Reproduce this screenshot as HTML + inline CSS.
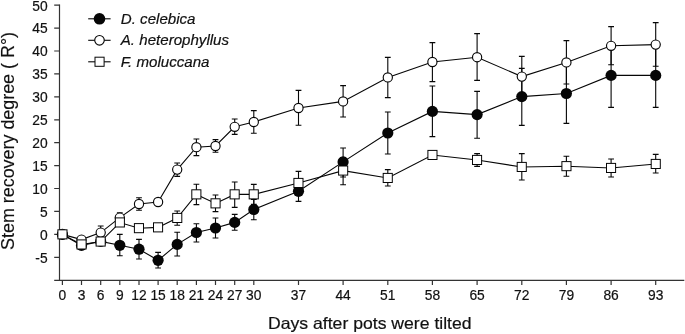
<!DOCTYPE html>
<html><head><meta charset="utf-8"><title>Stem recovery degree</title>
<style>
html,body{margin:0;padding:0;background:#fff;}
body{width:685px;height:334px;position:relative;overflow:hidden;font-family:"Liberation Sans",sans-serif;}
</style></head><body>
<svg width="685" height="334" viewBox="0 0 685 334" style="position:absolute;left:0;top:0;will-change:transform">
<path d="M59.5 4.55V280.3M54.2 280.3H684.3" stroke="#333" stroke-width="1.2" fill="none"/>
<path d="M54.2 257.3H59.5M54.2 234.3H59.5M54.2 211.4H59.5M54.2 188.5H59.5M54.2 165.6H59.5M54.2 142.7H59.5M54.2 119.8H59.5M54.2 96.8H59.5M54.2 73.9H59.5M54.2 51.0H59.5M54.2 28.1H59.5M54.2 5.2H59.5M62.4 280.3V285.0M81.5 280.3V285.0M100.7 280.3V285.0M119.8 280.3V285.0M139.0 280.3V285.0M158.1 280.3V285.0M177.2 280.3V285.0M196.4 280.3V285.0M215.5 280.3V285.0M234.7 280.3V285.0M253.8 280.3V285.0M298.5 280.3V285.0M343.1 280.3V285.0M387.8 280.3V285.0M432.4 280.3V285.0M477.1 280.3V285.0M521.8 280.3V285.0M566.4 280.3V285.0M611.1 280.3V285.0M655.7 280.3V285.0" stroke="#333" stroke-width="1.2" fill="none"/>
<g font-family="Liberation Sans, sans-serif" font-size="13.8" fill="#111" stroke="#111" stroke-width="0.2">
<text x="47.6" y="262.6" text-anchor="end">-5</text>
<text x="47.6" y="239.7" text-anchor="end">0</text>
<text x="47.6" y="216.7" text-anchor="end">5</text>
<text x="47.6" y="193.8" text-anchor="end">10</text>
<text x="47.6" y="170.9" text-anchor="end">15</text>
<text x="47.6" y="148.0" text-anchor="end">20</text>
<text x="47.6" y="125.0" text-anchor="end">25</text>
<text x="47.6" y="102.1" text-anchor="end">30</text>
<text x="47.6" y="79.2" text-anchor="end">35</text>
<text x="47.6" y="56.3" text-anchor="end">40</text>
<text x="47.6" y="33.4" text-anchor="end">45</text>
<text x="47.6" y="10.5" text-anchor="end">50</text>
<text x="62.4" y="300.2" text-anchor="middle">0</text>
<text x="81.5" y="300.2" text-anchor="middle">3</text>
<text x="100.7" y="300.2" text-anchor="middle">6</text>
<text x="119.8" y="300.2" text-anchor="middle">9</text>
<text x="139.0" y="300.2" text-anchor="middle">12</text>
<text x="158.1" y="300.2" text-anchor="middle">15</text>
<text x="177.2" y="300.2" text-anchor="middle">18</text>
<text x="196.4" y="300.2" text-anchor="middle">21</text>
<text x="215.5" y="300.2" text-anchor="middle">24</text>
<text x="234.7" y="300.2" text-anchor="middle">27</text>
<text x="253.8" y="300.2" text-anchor="middle">30</text>
<text x="298.5" y="300.2" text-anchor="middle">37</text>
<text x="343.1" y="300.2" text-anchor="middle">44</text>
<text x="387.8" y="300.2" text-anchor="middle">51</text>
<text x="432.4" y="300.2" text-anchor="middle">58</text>
<text x="477.1" y="300.2" text-anchor="middle">65</text>
<text x="521.8" y="300.2" text-anchor="middle">72</text>
<text x="566.4" y="300.2" text-anchor="middle">79</text>
<text x="611.1" y="300.2" text-anchor="middle">86</text>
<text x="655.7" y="300.2" text-anchor="middle">93</text>
</g>
<text font-family="Liberation Sans, sans-serif" font-size="16.5" fill="#111" stroke="#111" stroke-width="0.2" x="268.0" y="328.8" textLength="203.6" lengthAdjust="spacingAndGlyphs">Days after pots were tilted</text>
<text font-family="Liberation Sans, sans-serif" font-size="17.8" fill="#111" stroke="#111" stroke-width="0.15" transform="translate(13.8 249.9) rotate(-90)" textLength="217.9" lengthAdjust="spacingAndGlyphs">Stem recovery degree ( R°)</text>
<polyline points="62.4,234.4 81.5,245.4 100.7,241.4 119.8,245.3 139.0,249.2 158.1,260.3 177.2,244.4 196.4,232.5 215.5,228.0 234.7,222.4 253.8,209.5 298.5,191.3 343.1,161.9 387.8,133.0 432.4,111.4 477.1,114.6 521.8,96.6 566.4,93.5 611.1,75.4 655.7,75.4" fill="none" stroke="#060606" stroke-width="1.1"/>
<path d="M119.8 234.4V255.8M116.9 234.4h5.8M116.9 255.8h5.8" stroke="#060606" stroke-width="1.1" fill="none"/>
<path d="M139.0 239.4V259.0M136.1 239.4h5.8M136.1 259.0h5.8" stroke="#060606" stroke-width="1.1" fill="none"/>
<path d="M158.1 252.4V268.0M155.2 252.4h5.8M155.2 268.0h5.8" stroke="#060606" stroke-width="1.1" fill="none"/>
<path d="M177.2 232.2V256.0M174.3 232.2h5.8M174.3 256.0h5.8" stroke="#060606" stroke-width="1.1" fill="none"/>
<path d="M196.4 223.8V242.0M193.5 223.8h5.8M193.5 242.0h5.8" stroke="#060606" stroke-width="1.1" fill="none"/>
<path d="M215.5 218.0V238.0M212.6 218.0h5.8M212.6 238.0h5.8" stroke="#060606" stroke-width="1.1" fill="none"/>
<path d="M234.7 214.4V230.3M231.8 214.4h5.8M231.8 230.3h5.8" stroke="#060606" stroke-width="1.1" fill="none"/>
<path d="M253.8 199.5V219.8M250.9 199.5h5.8M250.9 219.8h5.8" stroke="#060606" stroke-width="1.1" fill="none"/>
<path d="M298.5 181.0V201.4M295.6 181.0h5.8M295.6 201.4h5.8" stroke="#060606" stroke-width="1.1" fill="none"/>
<path d="M343.1 148.0V177.0M340.2 148.0h5.8M340.2 177.0h5.8" stroke="#060606" stroke-width="1.1" fill="none"/>
<path d="M387.8 112.0V154.0M384.9 112.0h5.8M384.9 154.0h5.8" stroke="#060606" stroke-width="1.1" fill="none"/>
<path d="M432.4 86.0V136.6M429.5 86.0h5.8M429.5 136.6h5.8" stroke="#060606" stroke-width="1.1" fill="none"/>
<path d="M477.1 91.4V138.2M474.2 91.4h5.8M474.2 138.2h5.8" stroke="#060606" stroke-width="1.1" fill="none"/>
<path d="M521.8 68.4V125.4M518.9 68.4h5.8M518.9 125.4h5.8" stroke="#060606" stroke-width="1.1" fill="none"/>
<path d="M566.4 63.8V123.4M563.5 63.8h5.8M563.5 123.4h5.8" stroke="#060606" stroke-width="1.1" fill="none"/>
<path d="M611.1 43.4V107.4M608.2 43.4h5.8M608.2 107.4h5.8" stroke="#060606" stroke-width="1.1" fill="none"/>
<path d="M655.7 43.4V107.4M652.8 43.4h5.8M652.8 107.4h5.8" stroke="#060606" stroke-width="1.1" fill="none"/>
<circle cx="62.4" cy="234.4" r="5.60" fill="#060606"/>
<circle cx="81.5" cy="245.4" r="5.60" fill="#060606"/>
<circle cx="100.7" cy="241.4" r="5.60" fill="#060606"/>
<circle cx="119.8" cy="245.3" r="5.60" fill="#060606"/>
<circle cx="139.0" cy="249.2" r="5.60" fill="#060606"/>
<circle cx="158.1" cy="260.3" r="5.60" fill="#060606"/>
<circle cx="177.2" cy="244.4" r="5.60" fill="#060606"/>
<circle cx="196.4" cy="232.5" r="5.60" fill="#060606"/>
<circle cx="215.5" cy="228.0" r="5.60" fill="#060606"/>
<circle cx="234.7" cy="222.4" r="5.60" fill="#060606"/>
<circle cx="253.8" cy="209.5" r="5.60" fill="#060606"/>
<circle cx="298.5" cy="191.3" r="5.60" fill="#060606"/>
<circle cx="343.1" cy="161.9" r="5.60" fill="#060606"/>
<circle cx="387.8" cy="133.0" r="5.60" fill="#060606"/>
<circle cx="432.4" cy="111.4" r="5.60" fill="#060606"/>
<circle cx="477.1" cy="114.6" r="5.60" fill="#060606"/>
<circle cx="521.8" cy="96.6" r="5.60" fill="#060606"/>
<circle cx="566.4" cy="93.5" r="5.60" fill="#060606"/>
<circle cx="611.1" cy="75.4" r="5.60" fill="#060606"/>
<circle cx="655.7" cy="75.4" r="5.60" fill="#060606"/>
<polyline points="62.4,234.4 81.5,239.6 100.7,232.6 119.8,217.6 139.0,204.0 158.1,202.0 177.2,169.6 196.4,147.2 215.5,146.0 234.7,126.8 253.8,122.0 298.5,108.0 343.1,101.4 387.8,77.4 432.4,62.0 477.1,57.2 521.8,76.6 566.4,62.4 611.1,45.8 655.7,44.6" fill="none" stroke="#060606" stroke-width="1.1"/>
<path d="M100.7 226.0V239.6M97.8 226.0h5.8M97.8 239.6h5.8" stroke="#060606" stroke-width="1.1" fill="none"/>
<path d="M119.8 212.8V222.4M116.9 212.8h5.8M116.9 222.4h5.8" stroke="#060606" stroke-width="1.1" fill="none"/>
<path d="M139.0 197.8V210.2M136.1 197.8h5.8M136.1 210.2h5.8" stroke="#060606" stroke-width="1.1" fill="none"/>
<path d="M177.2 163.0V176.4M174.3 163.0h5.8M174.3 176.4h5.8" stroke="#060606" stroke-width="1.1" fill="none"/>
<path d="M196.4 139.0V155.6M193.5 139.0h5.8M193.5 155.6h5.8" stroke="#060606" stroke-width="1.1" fill="none"/>
<path d="M215.5 139.6V152.2M212.6 139.6h5.8M212.6 152.2h5.8" stroke="#060606" stroke-width="1.1" fill="none"/>
<path d="M234.7 119.0V134.4M231.8 119.0h5.8M231.8 134.4h5.8" stroke="#060606" stroke-width="1.1" fill="none"/>
<path d="M253.8 110.6V133.2M250.9 110.6h5.8M250.9 133.2h5.8" stroke="#060606" stroke-width="1.1" fill="none"/>
<path d="M298.5 90.4V125.2M295.6 90.4h5.8M295.6 125.2h5.8" stroke="#060606" stroke-width="1.1" fill="none"/>
<path d="M343.1 85.6V117.0M340.2 85.6h5.8M340.2 117.0h5.8" stroke="#060606" stroke-width="1.1" fill="none"/>
<path d="M387.8 57.4V97.6M384.9 57.4h5.8M384.9 97.6h5.8" stroke="#060606" stroke-width="1.1" fill="none"/>
<path d="M432.4 42.6V81.6M429.5 42.6h5.8M429.5 81.6h5.8" stroke="#060606" stroke-width="1.1" fill="none"/>
<path d="M477.1 33.6V80.4M474.2 33.6h5.8M474.2 80.4h5.8" stroke="#060606" stroke-width="1.1" fill="none"/>
<path d="M521.8 56.4V96.8M518.9 56.4h5.8M518.9 96.8h5.8" stroke="#060606" stroke-width="1.1" fill="none"/>
<path d="M566.4 40.6V84.0M563.5 40.6h5.8M563.5 84.0h5.8" stroke="#060606" stroke-width="1.1" fill="none"/>
<path d="M611.1 26.6V64.8M608.2 26.6h5.8M608.2 64.8h5.8" stroke="#060606" stroke-width="1.1" fill="none"/>
<path d="M655.7 22.6V66.2M652.8 22.6h5.8M652.8 66.2h5.8" stroke="#060606" stroke-width="1.1" fill="none"/>
<circle cx="62.4" cy="234.4" r="4.60" fill="#fff" stroke="#060606" stroke-width="1.15"/>
<circle cx="81.5" cy="239.6" r="4.60" fill="#fff" stroke="#060606" stroke-width="1.15"/>
<circle cx="100.7" cy="232.6" r="4.60" fill="#fff" stroke="#060606" stroke-width="1.15"/>
<circle cx="119.8" cy="217.6" r="4.60" fill="#fff" stroke="#060606" stroke-width="1.15"/>
<circle cx="139.0" cy="204.0" r="4.60" fill="#fff" stroke="#060606" stroke-width="1.15"/>
<circle cx="158.1" cy="202.0" r="4.60" fill="#fff" stroke="#060606" stroke-width="1.15"/>
<circle cx="177.2" cy="169.6" r="4.60" fill="#fff" stroke="#060606" stroke-width="1.15"/>
<circle cx="196.4" cy="147.2" r="4.60" fill="#fff" stroke="#060606" stroke-width="1.15"/>
<circle cx="215.5" cy="146.0" r="4.60" fill="#fff" stroke="#060606" stroke-width="1.15"/>
<circle cx="234.7" cy="126.8" r="4.60" fill="#fff" stroke="#060606" stroke-width="1.15"/>
<circle cx="253.8" cy="122.0" r="4.60" fill="#fff" stroke="#060606" stroke-width="1.15"/>
<circle cx="298.5" cy="108.0" r="4.60" fill="#fff" stroke="#060606" stroke-width="1.15"/>
<circle cx="343.1" cy="101.4" r="4.60" fill="#fff" stroke="#060606" stroke-width="1.15"/>
<circle cx="387.8" cy="77.4" r="4.60" fill="#fff" stroke="#060606" stroke-width="1.15"/>
<circle cx="432.4" cy="62.0" r="4.60" fill="#fff" stroke="#060606" stroke-width="1.15"/>
<circle cx="477.1" cy="57.2" r="4.60" fill="#fff" stroke="#060606" stroke-width="1.15"/>
<circle cx="521.8" cy="76.6" r="4.60" fill="#fff" stroke="#060606" stroke-width="1.15"/>
<circle cx="566.4" cy="62.4" r="4.60" fill="#fff" stroke="#060606" stroke-width="1.15"/>
<circle cx="611.1" cy="45.8" r="4.60" fill="#fff" stroke="#060606" stroke-width="1.15"/>
<circle cx="655.7" cy="44.6" r="4.60" fill="#fff" stroke="#060606" stroke-width="1.15"/>
<polyline points="62.4,234.4 81.5,244.5 100.7,241.6 119.8,222.5 139.0,228.2 158.1,227.4 177.2,218.0 196.4,194.4 215.5,203.4 234.7,194.4 253.8,194.4 298.5,183.0 343.1,170.6 387.8,178.0 432.4,155.0 477.1,160.0 521.8,167.0 566.4,166.2 611.1,168.0 655.7,164.0" fill="none" stroke="#060606" stroke-width="1.1"/>
<path d="M177.2 211.0V225.2M174.3 211.0h5.8M174.3 225.2h5.8" stroke="#060606" stroke-width="1.1" fill="none"/>
<path d="M196.4 184.2V204.6M193.5 184.2h5.8M193.5 204.6h5.8" stroke="#060606" stroke-width="1.1" fill="none"/>
<path d="M215.5 195.0V211.6M212.6 195.0h5.8M212.6 211.6h5.8" stroke="#060606" stroke-width="1.1" fill="none"/>
<path d="M234.7 182.0V207.4M231.8 182.0h5.8M231.8 207.4h5.8" stroke="#060606" stroke-width="1.1" fill="none"/>
<path d="M253.8 184.4V204.4M250.9 184.4h5.8M250.9 204.4h5.8" stroke="#060606" stroke-width="1.1" fill="none"/>
<path d="M298.5 171.4V194.6M295.6 171.4h5.8M295.6 194.6h5.8" stroke="#060606" stroke-width="1.1" fill="none"/>
<path d="M343.1 157.6V184.7M340.2 157.6h5.8M340.2 184.7h5.8" stroke="#060606" stroke-width="1.1" fill="none"/>
<path d="M387.8 169.6V186.0M384.9 169.6h5.8M384.9 186.0h5.8" stroke="#060606" stroke-width="1.1" fill="none"/>
<path d="M477.1 153.6V166.4M474.2 153.6h5.8M474.2 166.4h5.8" stroke="#060606" stroke-width="1.1" fill="none"/>
<path d="M521.8 153.6V180.0M518.9 153.6h5.8M518.9 180.0h5.8" stroke="#060606" stroke-width="1.1" fill="none"/>
<path d="M566.4 156.2V176.2M563.5 156.2h5.8M563.5 176.2h5.8" stroke="#060606" stroke-width="1.1" fill="none"/>
<path d="M611.1 159.0V177.0M608.2 159.0h5.8M608.2 177.0h5.8" stroke="#060606" stroke-width="1.1" fill="none"/>
<path d="M655.7 154.4V173.0M652.8 154.4h5.8M652.8 173.0h5.8" stroke="#060606" stroke-width="1.1" fill="none"/>
<rect x="57.9" y="229.8" width="9.1" height="9.1" fill="#fff" stroke="#060606" stroke-width="1.0"/>
<rect x="77.0" y="239.9" width="9.1" height="9.1" fill="#fff" stroke="#060606" stroke-width="1.0"/>
<rect x="96.1" y="237.0" width="9.1" height="9.1" fill="#fff" stroke="#060606" stroke-width="1.0"/>
<rect x="115.3" y="217.9" width="9.1" height="9.1" fill="#fff" stroke="#060606" stroke-width="1.0"/>
<rect x="134.4" y="223.6" width="9.1" height="9.1" fill="#fff" stroke="#060606" stroke-width="1.0"/>
<rect x="153.5" y="222.8" width="9.1" height="9.1" fill="#fff" stroke="#060606" stroke-width="1.0"/>
<rect x="172.7" y="213.4" width="9.1" height="9.1" fill="#fff" stroke="#060606" stroke-width="1.0"/>
<rect x="191.8" y="189.8" width="9.1" height="9.1" fill="#fff" stroke="#060606" stroke-width="1.0"/>
<rect x="211.0" y="198.8" width="9.1" height="9.1" fill="#fff" stroke="#060606" stroke-width="1.0"/>
<rect x="230.1" y="189.8" width="9.1" height="9.1" fill="#fff" stroke="#060606" stroke-width="1.0"/>
<rect x="249.2" y="189.8" width="9.1" height="9.1" fill="#fff" stroke="#060606" stroke-width="1.0"/>
<rect x="293.9" y="178.4" width="9.1" height="9.1" fill="#fff" stroke="#060606" stroke-width="1.0"/>
<rect x="338.6" y="166.0" width="9.1" height="9.1" fill="#fff" stroke="#060606" stroke-width="1.0"/>
<rect x="383.2" y="173.4" width="9.1" height="9.1" fill="#fff" stroke="#060606" stroke-width="1.0"/>
<rect x="427.9" y="150.4" width="9.1" height="9.1" fill="#fff" stroke="#060606" stroke-width="1.0"/>
<rect x="472.5" y="155.4" width="9.1" height="9.1" fill="#fff" stroke="#060606" stroke-width="1.0"/>
<rect x="517.2" y="162.4" width="9.1" height="9.1" fill="#fff" stroke="#060606" stroke-width="1.0"/>
<rect x="561.9" y="161.6" width="9.1" height="9.1" fill="#fff" stroke="#060606" stroke-width="1.0"/>
<rect x="606.5" y="163.4" width="9.1" height="9.1" fill="#fff" stroke="#060606" stroke-width="1.0"/>
<rect x="651.2" y="159.4" width="9.1" height="9.1" fill="#fff" stroke="#060606" stroke-width="1.0"/>
<path d="M88.2 18.8H110.6" stroke="#060606" stroke-width="1.1"/>
<circle cx="99.5" cy="18.8" r="5.82" fill="#060606"/>
<text font-family="Liberation Sans, sans-serif" font-style="italic" font-size="15.1" fill="#111" stroke="#111" stroke-width="0.2" x="120.8" y="23.7">D. celebica</text>
<path d="M88.2 40.3H110.6" stroke="#060606" stroke-width="1.1"/>
<circle cx="99.5" cy="40.3" r="4.78" fill="#fff" stroke="#060606" stroke-width="1.15"/>
<text font-family="Liberation Sans, sans-serif" font-style="italic" font-size="15.1" fill="#111" stroke="#111" stroke-width="0.2" x="120.8" y="45.4">A. heterophyllus</text>
<path d="M88.2 61.8H110.6" stroke="#060606" stroke-width="1.1"/>
<rect x="95.0" y="57.2" width="9.1" height="9.1" fill="#fff" stroke="#060606" stroke-width="1.0"/>
<text font-family="Liberation Sans, sans-serif" font-style="italic" font-size="15.1" fill="#111" stroke="#111" stroke-width="0.2" x="120.8" y="67.0">F. moluccana</text>
</svg>
</body></html>
